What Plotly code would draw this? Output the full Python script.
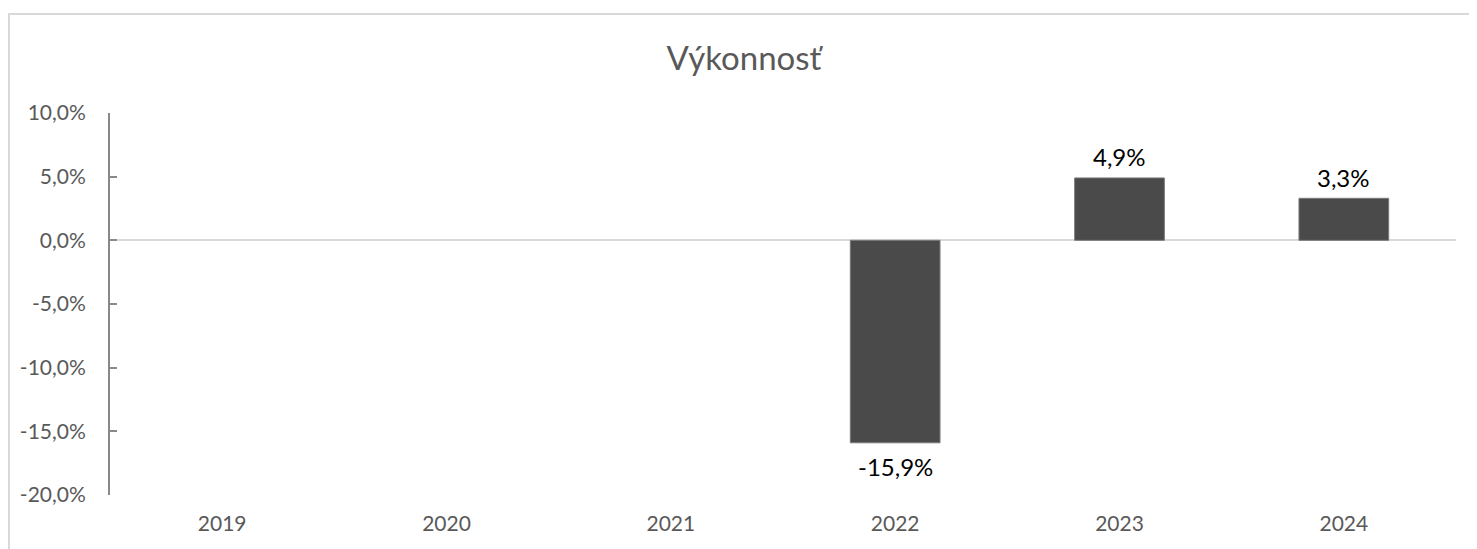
import plotly.graph_objects as go

years = ["2019", "2020", "2021", "2022", "2023", "2024"]
performance = [None, None, None, -15.9, 4.9, 3.3]
y_ticks = [-20, -15, -10, -5, 0, 5, 10]
title_text = "Výkonnosť"

FONT = "Lato"
GREY = "#595959"

W, H = 1469, 541
L, R, T, B = 102, 21, 105, 54
PW = W - L - R
PH = H - T - B

fig = go.Figure()
fig.add_trace(go.Bar(
    x=years, y=performance,
    marker=dict(color="#4a4a4a", line=dict(color="#7a7a7a", width=1)),
    width=0.4, hoverinfo="skip",
))

annotations = []
for i, v in enumerate(performance):
    if v is None:
        continue
    annotations.append(dict(
        x=i, y=v, xref="x", yref="y",
        text=f"{v:.1f}%".replace(".", ","), showarrow=False,
        yanchor="middle", yshift=21 if v >= 0 else -24,
        font=dict(family=FONT, size=24, color="#000000"),
    ))

fig.update_layout(
    width=W, height=H, autosize=False,
    margin=dict(l=L, r=R, t=T, b=B),
    paper_bgcolor="white", plot_bgcolor="white",
    showlegend=False,
    title=dict(text=title_text, x=736 / W, xanchor="center",
               y=1 - 50 / H, yanchor="middle", yref="container", xref="container",
               font=dict(family=FONT, size=33, color=GREY)),
    font=dict(family=FONT, size=21, color=GREY),
    xaxis=dict(type="category", categoryorder="array", categoryarray=years,
               range=[-0.5, len(years) - 0.5],
               showgrid=False, showline=False, zeroline=False, ticks="",
               ticklabelstandoff=14, tickfont=dict(family=FONT, size=21, color=GREY)),
    yaxis=dict(range=[-20, 10], tickvals=y_ticks,
               ticktext=[f"{v:.1f}%".replace(".", ",") for v in y_ticks],
               showgrid=False, showline=True, linecolor="#898989", linewidth=2,
               ticks="inside", ticklen=7, tickwidth=2, tickcolor="#898989",
               zeroline=True, zerolinecolor="#d9d9d9", zerolinewidth=2,
               ticklabelstandoff=18, tickfont=dict(family=FONT, size=21, color=GREY)),
    annotations=annotations,
    shapes=[dict(type="rect", xref="paper", yref="paper",
                 x0=(1 - L) / PW, x1=(1468 - L) / PW,
                 y0=-0.3, y1=(PH + T - 6) / PH,
                 line=dict(color="#d9d9d9", width=2), fillcolor="rgba(0,0,0,0)", layer="below")],
)

fig.write_html("out.html")
